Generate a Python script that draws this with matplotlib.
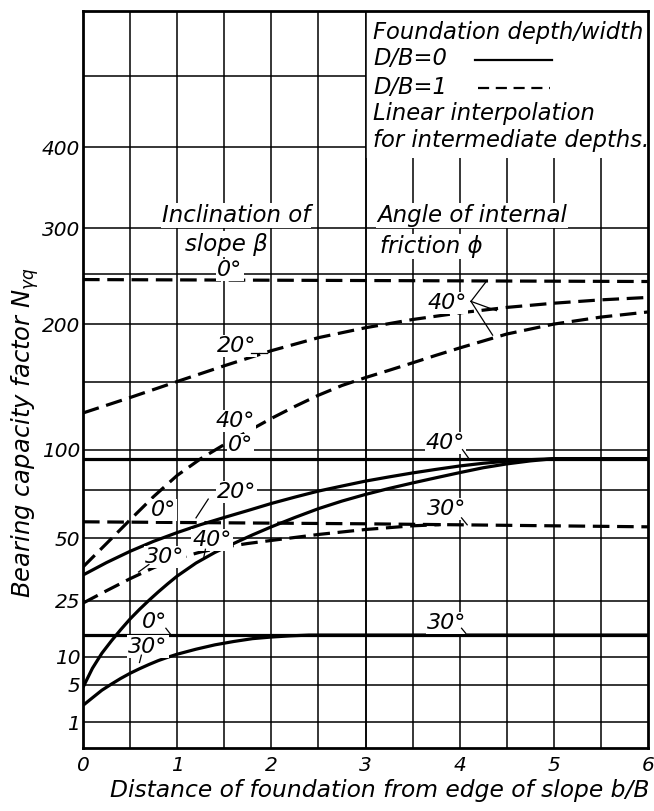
import numpy as np
import matplotlib
matplotlib.use("Agg")
import matplotlib.pyplot as plt
from matplotlib.patches import Rectangle

plt.rcParams['font.family'] = ['DejaVu Sans']
plt.rcParams['font.style'] = 'oblique'
plt.rcParams['mathtext.fontset'] = 'custom'
plt.rcParams['mathtext.it'] = 'DejaVu Sans:oblique'
plt.rcParams['mathtext.rm'] = 'DejaVu Sans:oblique'

# ---------------- data ----------------
x_ticks = [0, 1, 2, 3, 4, 5, 6]
y_ticks = [1, 5, 10, 25, 50, 100, 200, 300, 400]
y_grid = [1, 5, 10, 25, 50, 75, 100, 150, 200, 250, 300, 400, 500]
x_grid = [0.5, 1, 1.5, 2, 2.5, 3, 3.5, 4, 4.5, 5, 5.5]

# D/B = 0 (solid lines)
s40_b0_x = [0, 6]
s40_b0_y = [94, 94]
s40_b20_x = [0, 0.25, 0.5, 0.75, 1.0, 1.25, 1.5, 1.75, 2.0, 2.25, 2.5, 2.75, 3.0,
             3.25, 3.5, 3.75, 4.0, 4.25, 4.5, 4.75, 5.0, 6.0]
s40_b20_y = [34.3, 39.3, 44.1, 48.6, 52.7, 56.6, 60.2, 63.8, 67.6, 71.1, 74.5, 77.4, 80.3,
             82.8, 85.2, 87.4, 89.5, 91.2, 92.5, 93.5, 94.1, 94.1]
s40_b40_x = [0, 0.1, 0.2, 0.3, 0.4, 0.5, 0.6, 0.7, 0.8, 0.9, 1.0, 1.2, 1.4, 1.6, 1.8, 2.0,
             2.25, 2.5, 2.75, 3.0, 3.25, 3.5, 3.75, 4.0, 4.25, 4.5, 4.75, 5.0, 6.0]
s40_b40_y = [4.6, 7.7, 10.7, 13.5, 16.4, 19.4, 22.3, 25.2, 28.1, 31.0, 33.9, 39.1, 43.6, 47.6,
             51.6, 55.5, 60.2, 64.8, 68.9, 72.6, 76.0, 79.2, 82.3, 85.4, 88.4, 90.8, 92.7, 94.1, 94.1]
s30_b0_x = [0, 6]
s30_b0_y = [15, 15]
s30_b30_x = [0, 0.1, 0.2, 0.3, 0.4, 0.5, 0.6, 0.7, 0.8, 0.9, 1.0, 1.2, 1.4, 1.6, 1.8, 2.0,
             2.2, 2.4, 6.0]
s30_b30_y = [2.4, 3.24, 4.2, 5.06, 5.95, 6.81, 7.62, 8.41, 9.18, 9.86, 10.5, 11.6, 12.6, 13.4,
             14.1, 14.5, 14.8, 15.0, 15.0]

# D/B = 1 (dashed lines)
d40_b0_x = [0, 6]
d40_b0_y = [244, 242]
d40_b20_x = [0, 0.5, 1.0, 1.5, 2.0, 2.5, 3.0, 3.5, 4.0, 4.5, 5.0, 5.5, 6.0]
d40_b20_y = [125.7, 137.4, 150.1, 163.1, 176.1, 187.7, 196.8, 204.5, 210.8, 216.1, 220.2,
             223.5, 225.9]
d40_b40_x = [0, 0.25, 0.5, 0.75, 1.0, 1.25, 1.5, 1.75, 2.0, 2.25, 2.5, 2.75, 3.0, 3.25, 3.5,
             3.75, 4.0, 4.5, 5.0, 5.5, 6.0]
d40_b40_y = [37.5, 47.6, 59.0, 71.4, 83.7, 94.1, 103.4, 112.4, 121.7, 130.6, 139.2, 146.9,
             153.3, 159.3, 165.6, 172.1, 178.5, 191.0, 200.2, 206.8, 211.7]
d30_b0_x = [0, 3, 6]
d30_b0_y = [58, 57, 55.5]
d30_b30_x = [0, 0.25, 0.5, 0.75, 1.0, 1.25, 1.5, 1.75, 2.0, 2.5, 3.0, 3.5, 3.8]
d30_b30_y = [24.3, 28.5, 32.9, 37.2, 41.0, 43.8, 46.0, 47.6, 49.0, 51.8, 54.2, 56.0, 56.6]

# ---------------- figure ----------------
fig = plt.figure(figsize=(6.54, 8.11), dpi=100)
ax = fig.add_axes([83 / 654, 63 / 811, 565 / 654, 737 / 811])
ax.set_yscale('function', functions=(lambda v: np.sqrt(np.clip(v, 0, None)),
                                     lambda v: np.square(v)))
ax.set_xlim(0, 6)
ax.set_ylim(0.02, 600)

GRID_LW = 1.1
for g in y_grid:
    ax.axhline(g, color='black', lw=GRID_LW, zorder=1)
for g in x_grid:
    ax.axvline(g, color='black', lw=GRID_LW, zorder=1)

# white area of the key box
ax.add_patch(Rectangle((3, 386), 3, 300, facecolor='white', edgecolor='none', zorder=1.5))
ax.axvline(3, color='black', lw=GRID_LW, zorder=1.6)

CLW = 2.3
DASH = (0, (5.2, 2.4))
kw_s = dict(color='black', lw=CLW, zorder=2.5, solid_capstyle='butt', solid_joinstyle='round')
kw_d = dict(color='black', lw=CLW, zorder=2.5, linestyle=DASH)

ax.plot(s40_b0_x, s40_b0_y, **kw_s)
ax.plot(s40_b20_x, s40_b20_y, **kw_s)
ax.plot(s40_b40_x, s40_b40_y, **kw_s)
ax.plot(s30_b0_x, s30_b0_y, **kw_s)
ax.plot(s30_b30_x, s30_b30_y, **kw_s)
ax.plot(d40_b0_x, d40_b0_y, **kw_d)
ax.plot(d40_b20_x, d40_b20_y, **kw_d)
ax.plot(d40_b40_x, d40_b40_y, **kw_d)
ax.plot(d30_b0_x, d30_b0_y, **kw_d)
ax.plot(d30_b30_x, d30_b30_y, **kw_d)

# ticks
ax.set_xticks(x_ticks)
ax.set_xticklabels([str(t) for t in x_ticks])
ax.set_yticks(y_ticks)
ax.set_yticklabels([str(t) for t in y_ticks])
ax.tick_params(axis='both', length=0, labelsize=14.5)
ax.tick_params(axis='x', pad=6)
ax.tick_params(axis='y', pad=2)
for sp in ax.spines.values():
    sp.set_linewidth(2.0)
    sp.set_zorder(5)

FS_KEY = 16.3
FS = 16.5
FS_LAB = 16
wb = dict(facecolor='white', edgecolor='none', pad=0.8)

# key text
ax.text(3.08, 565, 'Foundation depth/width', fontsize=FS_KEY, va='center', ha='left', zorder=3)
ax.text(3.08, 526, 'D/B=0', fontsize=FS_KEY, va='center', ha='left', zorder=3)
ax.text(3.08, 482, 'D/B=1', fontsize=FS_KEY, va='center', ha='left', zorder=3)
ax.text(3.08, 446, 'Linear interpolation', fontsize=FS_KEY, va='center', ha='left', zorder=3)
ax.text(3.08, 409, 'for intermediate depths.', fontsize=FS_KEY, va='center', ha='left', zorder=3)
ax.plot([4.16, 4.98], [523, 523], color='black', lw=1.6, zorder=3)
ax.plot([4.19, 4.96], [482, 482], color='black', lw=1.6, linestyle=(0, (5, 3)), zorder=3)

# group headings
ax.text(0.84, 315, 'Inclination of', fontsize=FS, va='center', ha='left', zorder=3, bbox=wb)
ax.text(1.08, 282, 'slope β', fontsize=FS, va='center', ha='left', zorder=3, bbox=wb)
ax.text(3.12, 315, 'Angle of internal', fontsize=FS, va='center', ha='left', zorder=3, bbox=wb)
ax.text(3.15, 279, 'friction ϕ', fontsize=FS, va='center', ha='left', zorder=3, bbox=wb)

# curve labels
lab = [
    (1.56, 254, '0°'), (1.63, 180, '20°'), (1.62, 120, '40°'), (1.67, 103, '0°'),
    (1.63, 74, '20°'), (0.85, 64, '0°'), (0.87, 41.7, '30°'), (1.37, 49.2, '40°'),
    (0.76, 18.6, '0°'), (0.69, 12.2, '30°'),
    (3.87, 220.6, '40°'), (3.85, 104.6, '40°'), (3.86, 64.8, '30°'), (3.86, 18.3, '30°'),
]
for lx, ly, t in lab:
    ax.text(lx, ly, t, fontsize=FS_LAB, ha='center', va='center', zorder=3, bbox=wb)

# leader lines
lk = dict(color='black', lw=0.9, zorder=3.5)
ax.plot([4.12, 4.29], [222, 243], **lk)
ax.plot([4.12, 4.39], [222, 213], **lk)
ax.plot([4.12, 4.35], [222, 190], **lk)
ax.plot([4.03, 4.10], [100, 94], **lk)
ax.plot([4.02, 4.08], [60, 56.5], **lk)
ax.plot([4.02, 4.08], [16.8, 15], **lk)
ax.plot([1.33, 1.20], [70, 60], **lk)
ax.plot([0.70, 0.59], [38.5, 35.5], **lk)
ax.plot([1.30, 1.28], [45, 41], **lk)
ax.plot([0.88, 0.93], [16.8, 15.2], **lk)
ax.plot([0.62, 0.60], [10.3, 8.8], **lk)
ax.plot([1.78, 1.95], [174, 174], **lk)

# axis titles
fig.text(25 / 654, 1 - 433 / 811, r'Bearing capacity factor $N_{\gamma q}$', rotation=90,
         fontsize=17.5, ha='center', va='center')
fig.text(380 / 654, 1 - 790 / 811, 'Distance of foundation from edge of slope b/B',
         fontsize=16.8, ha='center', va='center')

fig.savefig('out.png', dpi=100)
